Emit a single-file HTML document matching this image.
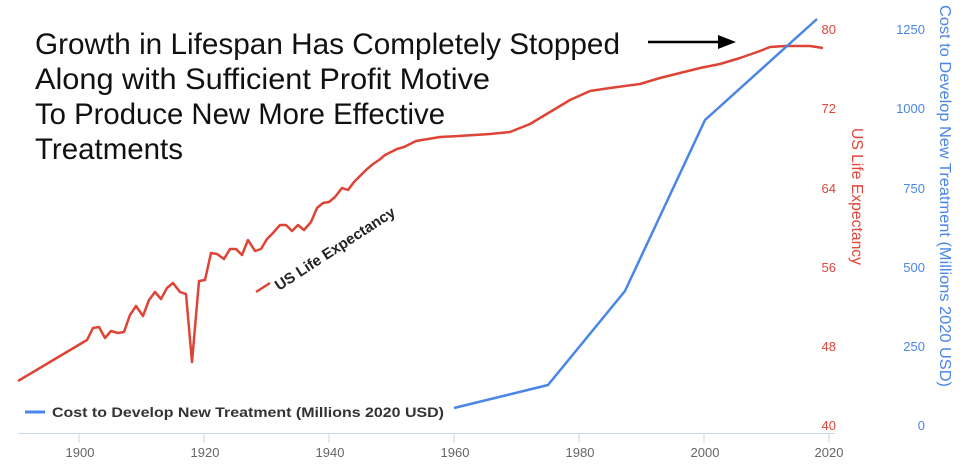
<!DOCTYPE html>
<html><head><meta charset="utf-8"><style>
body{margin:0;background:#fff;}
svg{display:block;font-family:"Liberation Sans",sans-serif;}
</style></head><body>
<svg width="963" height="467" viewBox="0 0 963 467" xmlns="http://www.w3.org/2000/svg">
<rect width="963" height="467" fill="#fff"/>
<line x1="18" y1="433.5" x2="835" y2="433.5" stroke="#ccd6eb" stroke-width="1"/>
<g stroke="#ccd6eb">
<line x1="79" y1="433" x2="79" y2="443"/><line x1="204" y1="433" x2="204" y2="443"/>
<line x1="329" y1="433" x2="329" y2="443"/><line x1="454" y1="433" x2="454" y2="443"/>
<line x1="579" y1="433" x2="579" y2="443"/><line x1="704" y1="433" x2="704" y2="443"/>
<line x1="829" y1="433" x2="829" y2="443"/>
</g>
<g fill="#666" font-size="13" text-anchor="middle">
<text x="80" y="457">1900</text><text x="205" y="457">1920</text><text x="330" y="457">1940</text>
<text x="455" y="457">1960</text><text x="580" y="457">1980</text><text x="705" y="457">2000</text>
<text x="829" y="457">2020</text>
</g>
<g fill="#e0443a" font-size="13" text-anchor="end">
<text x="836" y="34">80</text><text x="836" y="113">72</text><text x="836" y="193">64</text>
<text x="836" y="272">56</text><text x="836" y="351">48</text><text x="836" y="430">40</text>
</g>
<g fill="#4a86e8" font-size="13" text-anchor="end">
<text x="925" y="34">1250</text><text x="925" y="113">1000</text><text x="925" y="193">750</text>
<text x="925" y="272">500</text><text x="925" y="351">250</text><text x="925" y="430">0</text>
</g>
<text transform="translate(852,128) rotate(90)" fill="#e0443a" font-size="16" textLength="137" lengthAdjust="spacingAndGlyphs">US Life Expectancy</text>
<text transform="translate(940,5) rotate(90)" fill="#4a86e8" font-size="16" textLength="382" lengthAdjust="spacingAndGlyphs">Cost to Develop New Treatment (Millions 2020 USD)</text>
<polyline fill="none" stroke="#dd4436" stroke-width="2.5" stroke-linejoin="round" points="18,381 87,340 93,328 99,327 105,338 111,331 118,333 124,332 130,315 136,306 143,316 149,300 155,292 161,299 167,288 173,283 180,292 186,294 192,362 199,281 205,280 211,253 217,254 224,259 230,249 236,249 242,255 248,240 255,251 261,249 267,239 273,233 280,225 286,225 292,231 298,225 304,230 311,222 317,208 323,203 329,202 335,197 342,188 348,190 354,182 360,176 366,170 373,164 379,160 385,155 391,152 397,149 404,147 410,144 416,141 422,140 428,139 440,137 459,136 490,134 510,132 530,124 550,112 570,100 590,91 610,88 640,84 660,78 680,73 700,68 720,64 740,58 760,51 770,47 785,46 800,46 810,46 823,48"/>
<polyline fill="none" stroke="#4a86e8" stroke-width="2.5" stroke-linejoin="round" points="454,408 548,385 625,291 705,120 817,19"/>
<line x1="256" y1="292" x2="270" y2="283" stroke="#dd4436" stroke-width="2.5"/>
<text transform="translate(279,291) rotate(-33)" fill="#222" font-size="15" font-weight="bold" textLength="140" lengthAdjust="spacingAndGlyphs">US Life Expectancy</text>
<line x1="25" y1="412" x2="45" y2="412" stroke="#4a86e8" stroke-width="3"/>
<text x="52" y="417" fill="#333" font-size="14" font-weight="bold" textLength="392" lengthAdjust="spacingAndGlyphs">Cost to Develop New Treatment (Millions 2020 USD)</text>
<g fill="#111" font-size="30">
<text x="35" y="54" textLength="585" lengthAdjust="spacingAndGlyphs">Growth in Lifespan Has Completely Stopped</text>
<text x="35" y="89" textLength="455" lengthAdjust="spacingAndGlyphs">Along with Sufficient Profit Motive</text>
<text x="35" y="124" textLength="410" lengthAdjust="spacingAndGlyphs">To Produce New More Effective</text>
<text x="35" y="159" textLength="148" lengthAdjust="spacingAndGlyphs">Treatments</text>
</g>
<line x1="648" y1="42" x2="722" y2="42" stroke="#000" stroke-width="2.5"/>
<polygon points="736,42 718,35 718,49" fill="#000"/>
</svg>
</body></html>
